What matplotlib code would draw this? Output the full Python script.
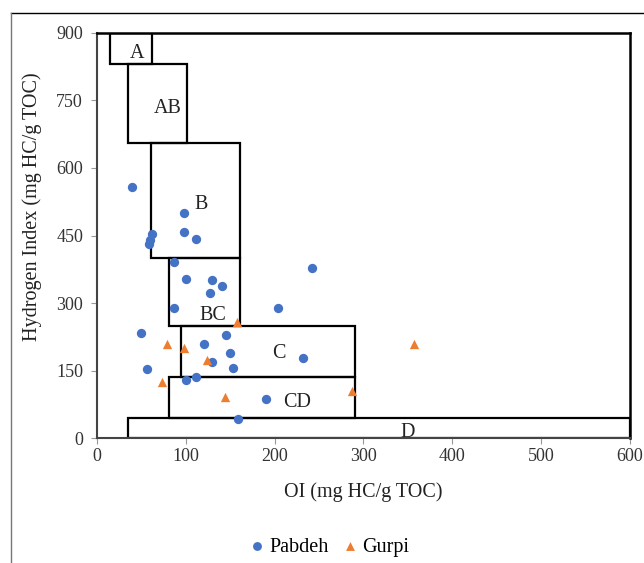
import numpy as np
import matplotlib
matplotlib.use("Agg")
import matplotlib.pyplot as plt
from matplotlib.patches import Rectangle
from matplotlib.lines import Line2D

plt.rcParams.update({
    "font.family": "Liberation Serif",
    "font.size": 14,
})

# Pabdeh samples (OI, HI)
pabdeh_oi = [39, 98, 62, 60, 59, 98, 111, 87, 100, 129, 141, 127, 87, 204, 242,
             50, 145, 121, 150, 129, 153, 56, 100, 111, 190, 159, 232]
pabdeh_hi = [557, 499, 453, 440, 432, 457, 443, 392, 354, 352, 338, 322, 290, 290, 378,
             233, 230, 209, 189, 169, 155, 154, 128, 135, 86, 43, 177]

# Gurpi samples (OI, HI)
gurpi_oi = [158, 79, 98, 124, 73, 144, 287, 357]
gurpi_hi = [257, 208, 200, 174, 125, 91, 105, 208]

# kerogen zones: name, OI from-to, HI from-to, label position
zone_names = ["A", "AB", "B", "BC", "C", "CD", "D"]
zone_oi = [(15, 62), (35, 101), (61, 161), (81, 161), (95, 291), (81, 291), (35, 600)]
zone_hi = [(830, 900), (655, 830), (400, 655), (250, 400), (135, 250), (45, 135), (0, 45)]
label_xy = [(45, 855), (80, 733), (117, 518), (130, 272), (205, 188), (225, 80), (350, 12)]

fig = plt.figure(figsize=(6.44, 5.63), dpi=100)
ax = fig.add_axes([0.1506, 0.222, 0.8276, 0.7194])

for name, (x0, x1), (y0, y1), (lx, ly) in zip(zone_names, zone_oi, zone_hi, label_xy):
    ax.add_patch(Rectangle((x0, y0), x1 - x0, y1 - y0, fill=False,
                           edgecolor="black", lw=1.6, zorder=2))
    ax.text(lx, ly, name, ha="center", va="center", fontsize=14.5,
            color="#222222", zorder=3)

ax.scatter(pabdeh_oi, pabdeh_hi, s=45, marker="o", color="#4472C4",
           label="Pabdeh", zorder=4, linewidths=0)
ax.scatter(gurpi_oi, gurpi_hi, s=45, marker="^", color="#ED7D31",
           label="Gurpi", zorder=4, linewidths=0)

ax.set_xlim(0, 600)
ax.set_ylim(0, 900)
ax.set_xticks(np.arange(0, 601, 100))
ax.set_yticks(np.arange(0, 901, 150))
ax.tick_params(labelsize=13, color="#999999", length=4, width=0.8,
               labelcolor="#333333")
ax.tick_params(axis="y", pad=6)
for side in ("top", "right"):
    ax.spines[side].set_linewidth(1.8)
    ax.spines[side].set_color("black")
for side in ("left", "bottom"):
    ax.spines[side].set_linewidth(1.5)
    ax.spines[side].set_color("#444444")

ax.set_xlabel("OI (mg HC/g TOC)", fontsize=14.5, color="#222222")
ax.xaxis.set_label_coords(0.5, -0.11)
ax.set_ylabel("Hydrogen Index (mg HC/g TOC)", fontsize=14.5, color="#222222")
ax.yaxis.set_label_coords(-0.103, 0.57)

fig.legend(loc="center", bbox_to_anchor=(0.512, 0.028), ncol=2, frameon=False,
           fontsize=14.5, handlelength=0.7, handletextpad=0.25,
           columnspacing=0.7, markerscale=0.95)

# thin frame around the figure (top and left edges)
fig.add_artist(Line2D([11 / 644, 1], [1 - 13 / 563, 1 - 13 / 563],
                      transform=fig.transFigure, color="black", lw=1))
fig.add_artist(Line2D([11 / 644, 11 / 644], [0, 1 - 13 / 563],
                      transform=fig.transFigure, color="#777777", lw=1))

fig.savefig("out.png", dpi=100)
